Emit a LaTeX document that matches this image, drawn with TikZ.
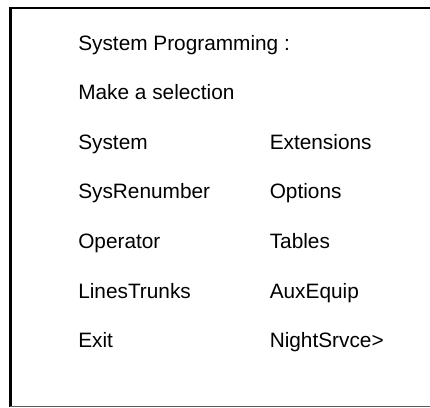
\documentclass[tikz,border=0pt]{standalone}
\usepackage{fontspec}
\setmainfont{Liberation Sans}
\usepackage{tikz}
\usetikzlibrary{positioning}
\newcommand{\menufont}{\fontsize{14.8}{17}\selectfont}
\tikzset{
  menuitem/.style = {anchor=base west, inner sep=0pt, font=\menufont},
  frameline/.style = {line width=1.4pt, black},
  sideline/.style = {line width=2pt, black},
  bottomline/.style = {line width=1.1pt, black!65},
}

\begin{document}
\begin{tikzpicture}[x=0.025cm, y=-0.025cm] % one unit = one pixel of the screen

    \useasboundingbox (0,0) rectangle (430,408);

    % Screen frame (open at the right)
    \draw[frameline] (430,8) -- (10.5,8);
    \draw[sideline] (10.5,7.3) -- (10.5,407);
    \draw[bottomline] (10.5,406.5) -- (430,406.5);

    % Header lines
    \node[menuitem] (title) at (78,50) {System Programming :};
    \node[menuitem] (prompt) at (78,99.5) {Make a selection};

    % --- MENU: two columns ---
    \foreach \r/\lft/\rgt in {0/System/Extensions, 1/SysRenumber/Options,
                              2/Operator/Tables, 3/LinesTrunks/AuxEquip,
                              4/Exit/NightSrvce>} {
        \node[menuitem] (left\r) at (78, 149+\r*49.7) {\lft};
        \node[menuitem] (right\r) at (269.5, 149+\r*49.7) {\rgt};
    }

\end{tikzpicture}
\end{document}
